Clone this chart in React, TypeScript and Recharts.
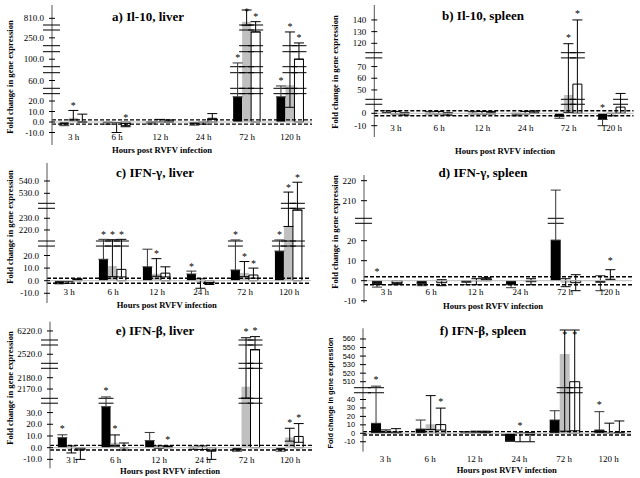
import React from 'react';
import { BarChart, Bar, XAxis, YAxis, ErrorBar, ReferenceLine } from 'recharts';

const SERIF = '"Liberation Serif", "Times New Roman", serif';
const SANS = '"Liberation Sans", Arial, sans-serif';

const CATS = ['3 h', '6 h', '12 h', '24 h', '72 h', '120 h'];

// ---- a) Il-10, liver ----
const A_AXIS_SEGMENTS = [[-30, 27, -31.5, 28.35], [50, 70, 33.7, 49.3], [90, 110, 55.3, 70.3], [230, 270, 76.3, 92], [790, 850, 97, 117]];
const A_TICKS = [810, 250, 100, 60, 20, 10, 0, -10];
const A_BLACK = [-2, -1, -0.8, -2, 24, 24];
const A_BLACK_ERR = [[1.5, 0], [1, 1], [1, 1], [1, 1], [0, 71], [0, 29]];
const A_GRAY = [4, -1.5, 1, -1, 800, 54];
const A_GRAY_ERR = [[2, 7], [8.5, 1], [1, 1.5], [1, 1], [40, 35], [40, 211]];
const A_WHITE = [0.5, -3.5, 1, 3.5, 265, 100];
const A_WHITE_ERR = [[1, 7], [1, 2], [1, 1], [1, 4.5], [0, 535], [0, 137]];
const A_STARS = ['g', 'w', '', '', 'bgw', 'bgw'];

// ---- b) Il-10, spleen ----
const B_AXIS_SEGMENTS = [[-30, 7.3, -37.2, 9.05], [42, 77.4, 14, 55.4], [112, 152, 60.6, 107.4]];
const B_TICKS = [140, 130, 120, 70, 60, 50, 0, -10];
const B_BLACK = [1, 0.5, 0.5, -1, -2.5, -5];
const B_BLACK_ERR = [[1, 1], [1, 1], [1, 1], [1, 1], [1.5, 0], [5, 0]];
const B_GRAY = [0.5, 0.5, 0.5, 0.5, 45.7, -1];
const B_GRAY_ERR = [[1, 1], [1, 1], [1, 1], [1, 1], [45, 74], [1, 1]];
const B_WHITE = [-0.5, -0.5, 0.5, 1, 55, 5];
const B_WHITE_ERR = [[1, 1], [1, 1], [1, 1], [1, 1], [55, 85], [5, 42]];
const B_STARS = ['', '', '', '', 'gw', 'b'];

// ---- c) IFN-γ, liver ----
const C_AXIS_SEGMENTS = [[-30, 27.5, -37.8, 34.65], [210.6, 238.5, 39.7, 72.4], [521.9, 554.6, 77.4, 117.7]];
const C_TICKS = [540, 530, 230, 220, 20, 10, 0, -10];
const C_BLACK = [-2, 17, 11, 5.3, 8.5, 23.5];
const C_BLACK_ERR = [[0.5, 0], [0, 195], [0, 14], [0, 2.3], [0, 203], [0, 188]];
const C_GRAY = [-1, 11.7, 5.5, -1.5, 6.2, 223];
const C_GRAY_ERR = [[1, 0.5], [8.5, 200], [2, 12], [4.5, 3], [3, 9], [0, 308]];
const C_WHITE = [1, 9, 6, -2, 4.5, 237];
const C_WHITE_ERR = [[0.5, 0.5], [6, 203], [3, 5], [1, 0.5], [2.5, 5.5], [0, 302]];
const C_STARS = ['', 'bgw', 'g', 'b', 'bgw', 'bgw'];

// ---- d) IFN-γ, spleen ----
const D_AXIS_SEGMENTS = [[-30, 28.7, -60, 57.4], [201.2, 222.9, 62.4, 105.8]];
const D_TICKS = [220, 210, 20, 10, 0, -10];
const D_BLACK = [-2.2, -2, -1, -2, 20.3, -1];
const D_BLACK_ERR = [[1, 1], [0.5, 0.5], [1, 1], [1.5, 0], [0, 195], [4, 3.5]];
const D_GRAY = [0, 0, -0.5, 0, -1, 1.5];
const D_GRAY_ERR = [[2, 2], [2, 2], [1.5, 1.5], [1.5, 1.5], [2, 2], [1, 4]];
const D_WHITE = [-1.5, -1, 1, -0.5, -1, 0];
const D_WHITE_ERR = [[0.5, 0.5], [1.5, 1.5], [0.5, 0.5], [1.5, 1.5], [4, 4], [2, 3]];
const D_STARS = ['b', '', '', '', '', 'g'];

// ---- e) IFN-β, liver ----
const E_AXIS_SEGMENTS = [[-30, 38, -35.1, 44.5], [2161.8, 2188.3, 49.4, 79.4], [2512, 2528.2, 84.4, 102.7], [6212, 6229, 107.7, 126.9]];
const E_TICKS = [6220, 2520, 2180, 2170, 30, 20, 10, 0, -10];
const E_BLACK = [8.5, 35, 6, -0.5, -2, -1.5];
const E_BLACK_ERR = [[0, 2.5], [0, 2128], [0, 7], [1, 1], [1, 0], [1.5, 0]];
const E_GRAY = [-1, 4.3, 0.5, 0.5, 2172, 8.6];
const E_GRAY_ERR = [[3.5, 2.5], [3, 6.6], [1, 1], [2, 1], [10, 4042], [3, 8]];
const E_WHITE = [-2, 0, 1, -3, 2524, 9.6];
const E_WHITE_ERR = [[8, 1], [2, 4], [0.5, 0.5], [7, 1], [0, 3691], [5, 11]];
const E_STARS = ['b', 'bg', 'w', '', 'gw', 'gw'];

// ---- f) IFN-β, spleen ----
const F_AXIS_SEGMENTS = [[-30, 48, -25.35, 40.56], [503, 572.5, 45.6, 105]];
const F_TICKS = [560, 550, 540, 530, 520, 510, 40, 30, 20, 10, 0, -10];
const F_BLACK = [11.8, 5, 1, -9.5, 15.7, 3.9];
const F_BLACK_ERR = [[0, 493], [0, 10.7], [1, 1], [0, 0], [0, 11], [0, 21.7]];
const F_GRAY = [2, 10.6, 1.5, -1, 542.5, 1];
const F_GRAY_ERR = [[1, 2], [6, 34], [1, 1], [9, 1.5], [540, 28], [1, 11]];
const F_WHITE = [1.5, 10.3, 1.5, -1, 510, 1];
const F_WHITE_ERR = [[1, 4], [6.5, 19.5], [0.5, 1], [9, 2], [507, 60.5], [1, 13.6]];
const F_STARS = ['b', 'w', '', 'g', 'gw', 'b'];

type Seg = number[];

function makeMap(segs: Seg[]) {
  const lin = (s: Seg, v: number) => s[2] + ((v - s[0]) * (s[3] - s[2])) / (s[1] - s[0]);
  return (v: number) => {
    if (v <= segs[0][1]) return lin(segs[0], v);
    for (let i = 0; i < segs.length; i++) {
      const s = segs[i];
      if (v >= s[0] && v <= s[1]) return lin(s, v);
      const n = segs[i + 1];
      if (n && v > s[1] && v < n[0]) return s[3] + ((v - s[1]) * (n[2] - s[3])) / (n[0] - s[1]);
    }
    return lin(segs[segs.length - 1], v);
  };
}

const PANELS = [
  { title: 'a) Il-10, liver', segs: A_AXIS_SEGMENTS, ticks: A_TICKS, black: A_BLACK, blackErr: A_BLACK_ERR, gray: A_GRAY, grayErr: A_GRAY_ERR, white: A_WHITE, whiteErr: A_WHITE_ERR, stars: A_STARS,
    box: { left: 0, top: 0, h: 158 }, plot: { l: 52, r: 312, t: 5, b: 145 }, dom: [-23, 117], titlePos: [148, 16], xlab: [162, 150], ylab: [10, 77], catY: 137, dec: 1, starGap: 8, sans: false, tickSize: 9 },
  { title: 'b) Il-10, spleen', segs: B_AXIS_SEGMENTS, ticks: B_TICKS, black: B_BLACK, blackErr: B_BLACK_ERR, gray: B_GRAY, grayErr: B_GRAY_ERR, white: B_WHITE, whiteErr: B_WHITE_ERR, stars: B_STARS,
    box: { left: 320, top: 0, h: 158 }, plot: { l: 374.3, r: 633.5, t: 5, b: 137 }, dom: [-23.7, 108.3], titlePos: [483, 15], xlab: [505, 151], ylab: [335, 72], catY: 128, dec: 0, starGap: 9, sans: false, tickSize: 9 },
  { title: 'c) IFN-γ, liver', segs: C_AXIS_SEGMENTS, ticks: C_TICKS, black: C_BLACK, blackErr: C_BLACK_ERR, gray: C_GRAY, grayErr: C_GRAY_ERR, white: C_WHITE, whiteErr: C_WHITE_ERR, stars: C_STARS,
    box: { left: 0, top: 158, h: 158 }, plot: { l: 47, r: 311, t: 163, b: 303 }, dom: [-22.3, 117.7], titlePos: [155, 172], xlab: [166.7, 305], ylab: [10, 227], catY: 291.7, dec: 1, starGap: 8, sans: false, tickSize: 9 },
  { title: 'd) IFN-γ, spleen', segs: D_AXIS_SEGMENTS, ticks: D_TICKS, black: D_BLACK, blackErr: D_BLACK_ERR, gray: D_GRAY, grayErr: D_GRAY_ERR, white: D_WHITE, whiteErr: D_WHITE_ERR, stars: D_STARS,
    box: { left: 320, top: 158, h: 158 }, plot: { l: 364, r: 632, t: 175, b: 303 }, dom: [-22.3, 105.7], titlePos: [483, 172], xlab: [493, 305.7], ylab: [335, 232], catY: 291.7, dec: 0, starGap: 12, sans: false, tickSize: 9 },
  { title: 'e) IFN-β, liver', segs: E_AXIS_SEGMENTS, ticks: E_TICKS, black: E_BLACK, blackErr: E_BLACK_ERR, gray: E_GRAY, grayErr: E_GRAY_ERR, white: E_WHITE, whiteErr: E_WHITE_ERR, stars: E_STARS,
    box: { left: 0, top: 316, h: 162 }, plot: { l: 50, r: 312, t: 321.7, b: 468.3 }, dom: [-20.6, 126], titlePos: [155, 330], xlab: [170, 471], ylab: [10, 388], catY: 460.2, dec: 1, starGap: 9, sans: false, tickSize: 9 },
  { title: 'f) IFN-β, spleen', segs: F_AXIS_SEGMENTS, ticks: F_TICKS, black: F_BLACK, blackErr: F_BLACK_ERR, gray: F_GRAY, grayErr: F_GRAY_ERR, white: F_WHITE, whiteErr: F_WHITE_ERR, stars: F_STARS,
    box: { left: 320, top: 316, h: 162 }, plot: { l: 363, r: 631, t: 328.3, b: 451.7 }, dom: [-18.4, 105], titlePos: [483, 330], xlab: [506.7, 470], ylab: [331, 393], catY: 459, dec: 0, starGap: 10, sans: true, tickSize: 7.4 },
];

const KEYS = ['b', 'g', 'w'];
const Y_AXIS_W = 40;
const X_AXIS_H = 8;

function overlayShape(k: string, gaps: number[][]) {
  return (p: any) => {
    const { x, y, width, height, payload } = p;
    const S = payload[k + 'S'];
    if (!(height > 0) || !(S > 0)) return <g />;
    const zero = y + height;
    const ppu = height / S;
    const py = (d: number) => zero - d * ppu;
    const L = payload[k + 'L'];
    const H = payload[k + 'H'];
    const els: any[] = [];
    gaps.forEach(([g0, g1], i) => {
      if (L < g0 && H > g1) {
        [g0, g1].forEach((g, j) =>
          els.push(<line key={`${i}-${j}`} x1={x - 3} x2={x + width + 3} y1={py(g)} y2={py(g)} stroke="#000" strokeWidth={1} />)
        );
      }
    });
    if (payload[k + 'T']) {
      els.push(
        <text key="s" x={x + width / 2} y={y + 3} textAnchor="middle" dominantBaseline="central" fontSize={10} fontFamily={SERIF} fill="#000">*</text>
      );
    }
    return <g>{els}</g>;
  };
}

function Panel({ cfg }: { cfg: any }) {
  const toD = makeMap(cfg.segs);
  const gaps = cfg.segs.slice(0, -1).map((s: Seg, i: number) => [s[3], cfg.segs[i + 1][2]]);
  const series: any[] = [['b', cfg.black, cfg.blackErr], ['g', cfg.gray, cfg.grayErr], ['w', cfg.white, cfg.whiteErr]];
  const data = CATS.map((c, i) => {
    const row: any = { cat: c };
    series.forEach(([k, vals, errs]) => {
      const v = vals[i];
      const [lo, hi] = errs[i];
      const dv = toD(v);
      const dl = toD(v - lo);
      const dh = toD(v + hi);
      row[k] = dv;
      row[k + 'E'] = [dv - dl, dh - dv];
      row[k + 'L'] = Math.min(0, dv, dl);
      row[k + 'H'] = Math.max(0, dv, dh);
      row[k + 'S'] = Math.min(row[k + 'H'] + cfg.starGap, cfg.dom[1] - 3);
      row[k + 'T'] = cfg.stars[i].includes(k);
    });
    return row;
  });

  const tickItems: any[] = [];
  cfg.ticks.forEach((t: number) => tickItems.push({ d: toD(t), label: cfg.dec ? t.toFixed(1) : String(t) }));
  gaps.forEach(([g0, g1]: number[]) => {
    tickItems.push({ d: g0, brk: true });
    tickItems.push({ d: g1, brk: true });
  });
  tickItems.sort((a, b) => a.d - b.d);
  const tickDs = tickItems.map((t) => t.d);
  const font = cfg.sans ? SANS : SERIF;

  const YTick = (p: any) => {
    const { x, y, payload } = p;
    let best = tickItems[0];
    tickItems.forEach((t) => {
      if (Math.abs(t.d - payload.value) < Math.abs(best.d - payload.value)) best = t;
    });
    if (best.brk) {
      return <line x1={x - 9} x2={x + 8} y1={y} y2={y} stroke="#000" strokeWidth={1} />;
    }
    return (
      <g>
        <line x1={x - 3} x2={x + 3} y1={y} y2={y} stroke="#000" strokeWidth={1} />
        <text x={x - 8} y={y} textAnchor="end" dominantBaseline="central" fontSize={cfg.tickSize} fontFamily={font} fill="#000">{best.label}</text>
      </g>
    );
  };

  const catDy = cfg.catY - cfg.plot.b;
  const XTick = (p: any) => (
    <text x={p.x} y={p.y + catDy} textAnchor="middle" dominantBaseline="central" fontSize={9} fontFamily={SERIF} fill="#000">{p.payload.value}</text>
  );

  const margin = {
    left: cfg.plot.l - cfg.box.left - Y_AXIS_W,
    right: cfg.box.left + 320 - cfg.plot.r,
    top: cfg.plot.t - cfg.box.top,
    bottom: cfg.box.top + cfg.box.h - cfg.plot.b - X_AXIS_H,
  };

  const label = (text: string, x: number, y: number, extra: any) => (
    <div style={{ position: 'absolute', left: x, top: y, transform: 'translate(-50%, -50%)' + (extra.rot ? ' rotate(-90deg)' : ''), whiteSpace: 'nowrap', lineHeight: 1, fontWeight: 'bold', fontSize: extra.size, fontFamily: extra.font, color: '#000' }}>{text}</div>
  );

  return (
    <>
      <div style={{ position: 'absolute', left: cfg.box.left, top: cfg.box.top, width: 320, height: cfg.box.h }}>
        <BarChart width={320} height={cfg.box.h} data={data} margin={margin} barCategoryGap="18%" barGap={0}>
          <XAxis dataKey="cat" height={X_AXIS_H} axisLine={false} tickLine={false} tickSize={0} tickMargin={0} interval={0} tick={XTick} />
          <XAxis dataKey="cat" xAxisId="o" hide />
          <YAxis type="number" domain={cfg.dom} allowDataOverflow ticks={tickDs} interval={0} width={Y_AXIS_W} tickSize={0} tickMargin={0} tickLine={false} axisLine={{ stroke: '#555', strokeWidth: 1 }} tick={YTick} />
          <Bar dataKey="b" fill="#000" isAnimationActive={false}>
            <ErrorBar dataKey="bE" width={5} stroke="#333" strokeWidth={1} />
          </Bar>
          <Bar dataKey="g" fill="#c0c0c0" isAnimationActive={false}>
            <ErrorBar dataKey="gE" width={5} stroke="#000" strokeWidth={1} />
          </Bar>
          <Bar dataKey="w" fill="#fff" stroke="#000" strokeWidth={1} isAnimationActive={false}>
            <ErrorBar dataKey="wE" width={5} stroke="#000" strokeWidth={1} />
          </Bar>
          {KEYS.map((k) => (
            <Bar key={k} xAxisId="o" dataKey={k + 'S'} fill="none" isAnimationActive={false} shape={overlayShape(k, gaps)} />
          ))}
          <ReferenceLine y={0} stroke="#bbb" strokeWidth={1} />
          <ReferenceLine y={toD(2)} stroke="#000" strokeWidth={1.4} strokeDasharray="4 2" />
          <ReferenceLine y={toD(-2)} stroke="#000" strokeWidth={1.4} strokeDasharray="4 2" />
        </BarChart>
      </div>
      {label(cfg.title, cfg.titlePos[0], cfg.titlePos[1], { size: 13, font: SERIF })}
      {label('Hours post RVFV infection', cfg.xlab[0], cfg.xlab[1], { size: 8.6, font: SERIF })}
      {label('Fold change in gene expression', cfg.ylab[0], cfg.ylab[1], { size: cfg.sans ? 7.3 : 8.6, font: cfg.sans ? SANS : SERIF, rot: true })}
    </>
  );
}

export default function App() {
  return (
    <div style={{ position: 'absolute', left: 0, top: 0, width: 640, height: 478, background: '#fff', overflow: 'hidden' }}>
      {PANELS.map((p, i) => (
        <Panel key={i} cfg={p} />
      ))}
    </div>
  );
}
